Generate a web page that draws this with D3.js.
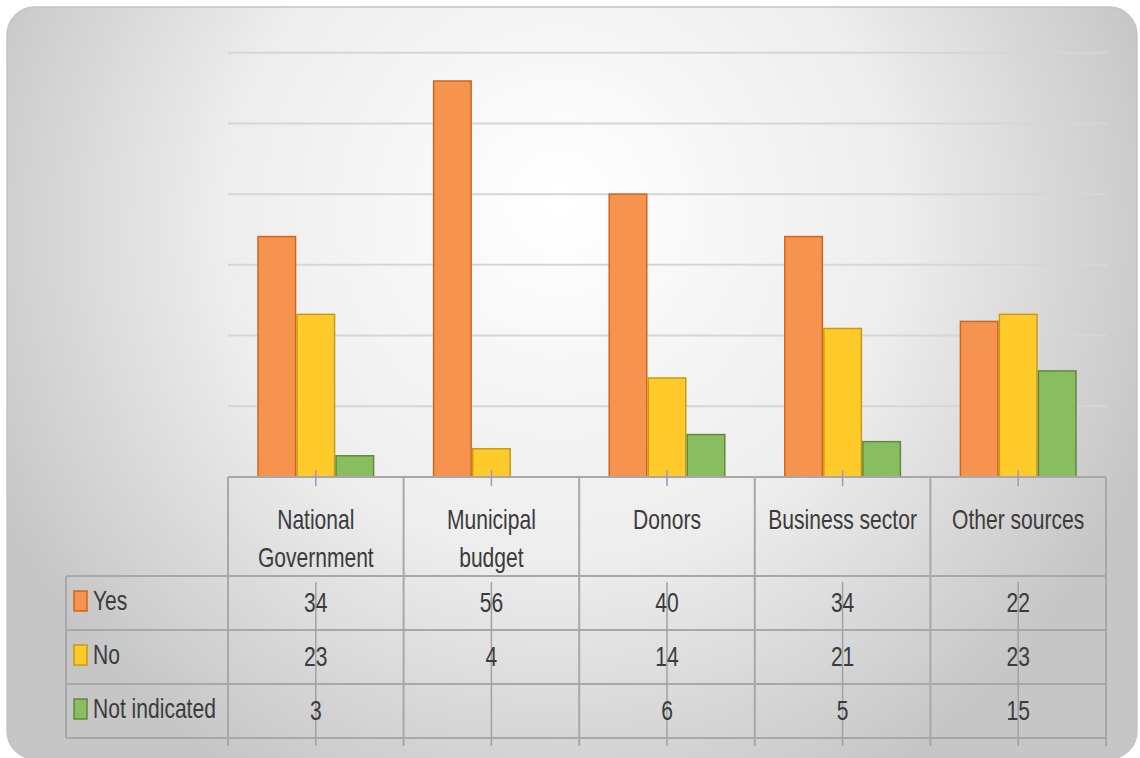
<!DOCTYPE html>
<html>
<head>
<meta charset="utf-8">
<script src="https://cdn.jsdelivr.net/npm/d3@7"></script>
<style>
  html, body { margin: 0; padding: 0; background: #ffffff; }
  svg { display: block; }
  text { font-family: "Liberation Sans", "DejaVu Sans", sans-serif; fill: #3b3b3b; }
</style>
</head>
<body>
<svg id="chart" width="1140" height="758"></svg>
<script>
// Funding sources and the answer counts per source
const categories = [["National", "Government"], ["Municipal", "budget"], ["Donors"], ["Business sector"], ["Other sources"]];
const seriesNames = ["Yes", "No", "Not indicated"];
const yesValues = [34, 56, 40, 34, 22];
const noValues = [23, 4, 14, 21, 23];
const notIndicatedValues = [3, null, 6, 5, 15];
const yTicks = [0, 10, 20, 30, 40, 50, 60];

const seriesValues = [yesValues, noValues, notIndicatedValues];
const fills = ["#f6944f", "#ffca2a", "#8abd5f"];
const strokes = ["#d2641a", "#c99a12", "#5f8a40"];

const svg = d3.select("#chart");
const defs = svg.append("defs");

// Panel background: soft radial highlight fading to grey edges
const grad = defs.append("radialGradient")
  .attr("id", "bg").attr("gradientUnits", "userSpaceOnUse")
  .attr("cx", 560).attr("cy", 240).attr("r", 620)
  .attr("fx", 560).attr("fy", 200);
grad.append("stop").attr("offset", "0%").attr("stop-color", "#ffffff");
grad.append("stop").attr("offset", "55%").attr("stop-color", "#ededed");
grad.append("stop").attr("offset", "100%").attr("stop-color", "#c6c6c6");

svg.append("rect")
  .attr("x", 7).attr("y", 7).attr("width", 1130).attr("height", 752)
  .attr("rx", 28).attr("ry", 28)
  .attr("fill", "url(#bg)")
  .attr("stroke", "#c4c4c4").attr("stroke-width", 1.5);

const plotLeft = 228, plotRight = 1106, baseY = 477, topY = 52.7;

const x = d3.scaleBand().domain(d3.range(categories.length)).range([plotLeft, plotRight]).paddingInner(0).paddingOuter(0);
const x1 = d3.scaleBand().domain(d3.range(seriesNames.length)).range([0, x.bandwidth()]).paddingInner(0).paddingOuter(0.75);
const y = d3.scaleLinear().domain([0, 60]).range([baseY, topY]);

// Horizontal gridlines
svg.append("g").selectAll("line")
  .data(yTicks.filter(t => t > 0))
  .join("line")
  .attr("x1", plotLeft).attr("x2", plotRight + 1)
  .attr("y1", d => y(d)).attr("y2", d => y(d))
  .attr("stroke", "#d6d6d6").attr("stroke-width", 2);

// Bars
const groups = svg.append("g").selectAll("g")
  .data(categories.map((c, i) => i))
  .join("g")
  .attr("transform", i => `translate(${x(i)},0)`);

groups.selectAll("rect")
  .data(i => seriesValues.map((vals, s) => ({ s, v: vals[i] })).filter(d => d.v != null))
  .join("rect")
  .attr("x", d => x1(d.s) + 0.75)
  .attr("width", x1.bandwidth() - 1.5)
  .attr("y", d => y(d.v))
  .attr("height", d => baseY - y(d.v))
  .attr("fill", d => fills[d.s])
  .attr("stroke", d => strokes[d.s])
  .attr("stroke-width", 1.5);

// Data table
const lineColor = "#a8a8a8";
const headerBottom = 576, rowH = 54;
const rowTops = seriesNames.map((s, i) => headerBottom + i * rowH);
const tableBottom = headerBottom + seriesNames.length * rowH;
const legendLeft = 66;
const fontSize = 27, squeeze = 0.78;
const table = svg.append("g");

// condensed text helper
function label(px, py, str, anchor) {
  return table.append("text")
    .attr("transform", `translate(${px},${py}) scale(${squeeze},1)`)
    .attr("text-anchor", anchor || "start")
    .attr("font-size", fontSize)
    .text(str);
}

// horizontal lines
table.append("line").attr("x1", plotLeft).attr("x2", plotRight).attr("y1", baseY).attr("y2", baseY)
  .attr("stroke", lineColor).attr("stroke-width", 2);
[headerBottom, ...rowTops.slice(1), tableBottom].forEach(yy => {
  table.append("line").attr("x1", legendLeft).attr("x2", plotRight).attr("y1", yy).attr("y2", yy)
    .attr("stroke", lineColor).attr("stroke-width", 2);
});
// vertical lines
const colEdges = d3.range(categories.length).map(i => x(i)).concat([plotRight]);
colEdges.forEach(xx => {
  table.append("line").attr("x1", xx).attr("x2", xx).attr("y1", baseY).attr("y2", tableBottom + 8)
    .attr("stroke", lineColor).attr("stroke-width", 2);
});
table.append("line").attr("x1", legendLeft).attr("x2", legendLeft).attr("y1", headerBottom).attr("y2", tableBottom)
  .attr("stroke", lineColor).attr("stroke-width", 2);

// category tick marks
d3.range(categories.length).forEach(i => {
  const cx = x(i) + x.bandwidth() / 2;
  table.append("line").attr("x1", cx).attr("x2", cx).attr("y1", baseY - 7).attr("y2", baseY + 9)
    .attr("stroke", "#9a98c8").attr("stroke-width", 1.5);
  table.append("line").attr("x1", cx).attr("x2", cx).attr("y1", headerBottom + 6).attr("y2", tableBottom + 8)
    .attr("stroke", "#a2a2a2").attr("stroke-width", 1.5);
});

// header labels
d3.range(categories.length).forEach(i => {
  const cx = x(i) + x.bandwidth() / 2;
  categories[i].forEach((line, k) => label(cx, 529 + k * 38, line, "middle"));
});

// legend keys and values
seriesNames.forEach((name, s) => {
  const mid = rowTops[s] + rowH / 2;
  table.append("rect").attr("x", 74).attr("y", mid - 12).attr("width", 13).attr("height", 20)
    .attr("fill", fills[s]).attr("stroke", strokes[s]).attr("stroke-width", 1.5);
  label(93, mid + 7, name);
  seriesValues[s].forEach((v, i) => {
    if (v == null) return;
    label(x(i) + x.bandwidth() / 2, mid + 9, String(v), "middle");
  });
});
</script>
</body>
</html>
